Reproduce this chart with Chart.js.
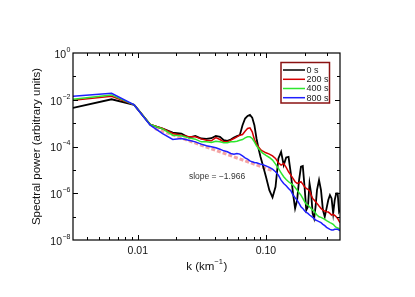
<!DOCTYPE html>
<html>
<head>
<meta charset="utf-8">
<script src="https://cdn.jsdelivr.net/npm/chart.js@4.4.0/dist/chart.umd.min.js"></script>
<style>
html, body { margin: 0; padding: 0; background: #fff; }
#wrap { width: 415px; height: 297px; }
</style>
</head>
<body>
<div id="wrap"><canvas id="myChart" width="415" height="297"></canvas></div>
<script>
// wavenumbers (km^-1)
const k = [0.003125, 0.00625, 0.009375, 0.0125, 0.015625, 0.01875, 0.021875, 0.025, 0.028125, 0.03125,
  0.034375, 0.0375, 0.040625, 0.04375, 0.046875, 0.05, 0.053125, 0.05625, 0.059375, 0.0625,
  0.065625, 0.06875, 0.071875, 0.075, 0.078125, 0.08125, 0.084375, 0.0875, 0.090625, 0.09375,
  0.1, 0.10625, 0.1125, 0.11875, 0.125, 0.13125, 0.1375, 0.14375, 0.15, 0.15625,
  0.1625, 0.16875, 0.175, 0.18125, 0.1875, 0.19375, 0.2, 0.20625, 0.2125, 0.21875,
  0.225, 0.23125, 0.2375, 0.24375, 0.25,
  0.259375, 0.26875, 0.278125, 0.2875, 0.296875, 0.30625, 0.315625, 0.325, 0.334375, 0.34375, 0.353125, 0.3625, 0.371875,
  0.378125];

const power0 = [4.48e-3, 1.05e-2, 6.01e-3, 8.71e-4, 5.87e-4, 3.96e-4, 3.59e-4, 2.42e-4, 2.86e-4, 2.20e-4,
  2.12e-4, 2.27e-4, 2.86e-4, 2.59e-4, 1.86e-4, 1.75e-4, 1.99e-4, 2.42e-4, 2.76e-4, 3.05e-4,
  8.15e-4, 1.57e-3, 2.04e-3, 2.25e-3, 1.73e-3, 8.15e-4, 2.20e-4, 8.22e-5, 3.62e-5, 1.88e-5,
  5.07e-6, 1.36e-6, 6.64e-7, 1.90e-6, 3.08e-5, 5.92e-5, 1.60e-5, 3.39e-5, 3.62e-5, 7.03e-6,
  9.84e-7, 2.25e-7, 5.11e-7, 3.65e-6, 1.36e-5, 1.45e-5, 1.90e-6, 1.91e-7, 2.65e-7, 2.63e-6,
  9.84e-7, 1.38e-7, 8.41e-8, 2.65e-7, 1.36e-6,
  3.65e-6, 1.36e-6, 1.91e-7, 9.91e-8, 2.25e-7, 5.11e-7, 8.36e-7, 6.01e-7, 1.38e-7, 5.11e-7, 9.84e-7, 9.84e-7, 1.62e-7,
  1.91e-7];

const power200 = [9.53e-3, 1.41e-2, 6.01e-3, 8.71e-4, 5.87e-4, 3.59e-4, 3.05e-4, 2.59e-4, 2.59e-4, 2.12e-4,
  1.86e-4, 1.75e-4, 2.42e-4, 1.99e-4, 1.58e-4, 1.58e-4, 1.86e-4, 2.20e-4, 2.59e-4, 3.05e-4,
  3.25e-4, 4.52e-4, 5.87e-4, 6.27e-4, 4.23e-4, 1.99e-4, 1.26e-4, 9.68e-5, 7.45e-5, 6.53e-5,
  5.37e-5, 4.71e-5, 3.99e-5, 3.08e-5, 2.00e-5, 1.60e-5, 1.88e-5, 1.27e-5, 8.28e-6, 5.97e-6,
  4.30e-6, 3.10e-6, 2.63e-6, 2.81e-6, 3.10e-6, 2.46e-6, 1.90e-6, 1.61e-6, 1.46e-6, 1.28e-6,
  8.36e-7, 6.01e-7, 5.11e-7, 4.34e-7, 3.68e-7,
  2.83e-7, 2.25e-7, 1.91e-7, 1.73e-7, 1.62e-7, 1.57e-7, 1.38e-7, 1.17e-7, 1.25e-7, 1.13e-7, 9.91e-8, 8.41e-8, 6.47e-8,
  5.50e-8];

const power400 = [1.05e-2, 1.61e-2, 6.01e-3, 8.71e-4, 5.68e-4, 3.05e-4, 2.86e-4, 2.34e-4, 2.06e-4, 1.58e-4,
  1.58e-4, 1.48e-4, 1.69e-4, 1.58e-4, 1.44e-4, 1.44e-4, 1.58e-4, 1.58e-4, 1.69e-4, 1.86e-4,
  1.99e-4, 2.34e-4, 2.59e-4, 2.59e-4, 2.20e-4, 1.58e-4, 1.07e-4, 8.22e-5, 6.53e-5, 5.37e-5,
  4.13e-5, 3.39e-5, 2.61e-5, 1.76e-5, 1.15e-5, 7.50e-6, 5.07e-6, 3.90e-6, 3.10e-6, 2.63e-6,
  2.23e-6, 1.77e-6, 1.36e-6, 1.05e-6, 8.36e-7, 6.01e-7, 4.34e-7, 3.44e-7, 3.13e-7, 2.65e-7,
  2.25e-7, 1.91e-7, 1.73e-7, 1.38e-7, 1.17e-7,
  9.91e-8, 9.29e-8, 8.41e-8, 7.64e-8, 6.70e-8, 6.07e-8, 5.50e-8, 5.15e-8, 4.67e-8, 3.96e-8, 3.48e-8, 3.25e-8, 3.05e-8,
  2.86e-8];

const power800 = [1.41e-2, 1.90e-2, 6.01e-3, 8.15e-4, 3.59e-4, 1.99e-4, 2.20e-4, 1.86e-4, 1.58e-4, 1.26e-4,
  1.07e-4, 9.68e-5, 8.77e-5, 7.69e-5, 6.53e-5, 5.92e-5, 5.02e-5, 4.71e-5, 5.02e-5, 4.71e-5,
  3.99e-5, 3.28e-5, 2.88e-5, 2.44e-5, 2.21e-5, 2.07e-5, 2.00e-5, 1.88e-5, 1.76e-5, 1.70e-5,
  1.49e-5, 1.27e-5, 1.08e-5, 8.28e-6, 5.97e-6, 3.65e-6, 2.63e-6, 2.09e-6, 1.61e-6, 1.28e-6,
  8.36e-7, 6.43e-7, 5.11e-7, 3.68e-7, 2.65e-7, 2.25e-7, 1.79e-7, 1.52e-7, 1.38e-7, 1.17e-7,
  1.06e-7, 9.29e-8, 8.41e-8, 7.14e-8, 6.70e-8,
  6.07e-8, 5.50e-8, 4.67e-8, 4.09e-8, 3.48e-8, 3.15e-8, 2.86e-8, 2.67e-8, 2.67e-8, 2.86e-8, 2.86e-8, 2.86e-8, 2.67e-8,
  2.51e-8];

// fitted power law (two end points)
const fitK = [0.0136, 0.114];
const fitP = [5.87e-4, 9.0e-6];
const slopeText = 'slope = \u22121.966';

const seriesLabels = ['0 s', '200 s', '400 s', '800 s'];
const seriesData = [power0, power200, power400, power800];
const seriesColors = ['#000000', '#d40000', '#2ee62e', '#1f1fff'];

const xTickValues = [0.01, 0.1];
const xTickLabels = ['0.01', '0.10'];
const xMinorTicks = [0.004, 0.005, 0.006, 0.007, 0.008, 0.009, 0.02, 0.03, 0.04, 0.05, 0.06, 0.07, 0.08, 0.09, 0.2, 0.3];
const yTickExps = [0, -2, -4, -6, -8];

const FONT = '"Liberation Sans", Arial, Helvetica, sans-serif';

function make_datasets(){
    let sets = seriesData.map((vals, i) => ({
        label: seriesLabels[i],
        data: k.map((kv, j) => ({x: kv, y: vals[j]})),
        borderColor: seriesColors[i],
        borderWidth: i == 0 ? 1.8 : 1.5,
        pointRadius: 0,
        fill: false,
        tension: 0,
        order: 4 - i
    }));
    sets.push({
        label: 'fit',
        data: fitK.map((kv, j) => ({x: kv, y: fitP[j]})),
        borderColor: 'rgba(240,140,140,0.8)',
        borderWidth: 3,
        borderDash: [4, 2],
        pointRadius: 0,
        fill: false,
        order: 10
    });
    return sets;
}

// frame, inward ticks, superscript labels, legend and annotation
const framePlugin = {
    id: 'frame',
    afterDraw(chart){
        const ctx = chart.ctx;
        const {left, right, top, bottom} = chart.chartArea;
        const xs = chart.scales.x, ys = chart.scales.y;
        ctx.save();
        ctx.strokeStyle = '#000';
        ctx.lineWidth = 1.2;
        ctx.strokeRect(left, top, right - left, bottom - top);

        ctx.lineWidth = 1;
        ctx.beginPath();
        for (let v of xMinorTicks){
            const px = Math.round(xs.getPixelForValue(v)) + 0.5;
            ctx.moveTo(px, bottom); ctx.lineTo(px, bottom - 3);
            ctx.moveTo(px, top); ctx.lineTo(px, top + 3);
        }
        for (let v of xTickValues){
            const px = Math.round(xs.getPixelForValue(v)) + 0.5;
            ctx.moveTo(px, bottom); ctx.lineTo(px, bottom - 5);
            ctx.moveTo(px, top); ctx.lineTo(px, top + 5);
        }
        for (let e = -7; e <= -1; e++){
            const py = Math.round(ys.getPixelForValue(Math.pow(10, e))) + 0.5;
            const len = e % 2 == 0 ? 5 : 3;
            ctx.moveTo(left, py); ctx.lineTo(left + len, py);
            ctx.moveTo(right, py); ctx.lineTo(right - len, py);
        }
        ctx.stroke();

        // y tick labels 10^n
        ctx.fillStyle = '#111';
        ctx.textBaseline = 'middle';
        ctx.textAlign = 'left';
        for (let e of yTickExps){
            const py = ys.getPixelForValue(Math.pow(10, e));
            const expTxt = e == 0 ? '0' : '\u2212' + (-e);
            ctx.font = '7px ' + FONT;
            const we = ctx.measureText(expTxt).width;
            ctx.font = '10.5px ' + FONT;
            const wb = ctx.measureText('10').width;
            const x0 = left - 3 - we - wb;
            ctx.fillText('10', x0, py + 2);
            ctx.font = '7px ' + FONT;
            ctx.fillText(expTxt, x0 + wb + 0.5, py - 3);
        }

        // x axis title with superscript
        ctx.font = '11.5px ' + FONT;
        const t1 = 'k (km', t3 = ')';
        const w1 = ctx.measureText(t1).width, w3 = ctx.measureText(t3).width;
        ctx.font = '7.5px ' + FONT;
        const t2 = '\u22121';
        const w2 = ctx.measureText(t2).width;
        const cx = (left + right) / 2;
        let tx = cx - (w1 + w2 + w3) / 2;
        ctx.font = '11.5px ' + FONT;
        ctx.fillText(t1, tx, 267);
        ctx.font = '7.5px ' + FONT;
        ctx.fillText(t2, tx + w1, 262);
        ctx.font = '11.5px ' + FONT;
        ctx.fillText(t3, tx + w1 + w2 + 0.5, 267);

        // slope annotation
        ctx.font = '8.5px ' + FONT;
        ctx.fillStyle = '#333';
        ctx.textAlign = 'center';
        ctx.fillText(slopeText, 217, 177);

        // legend
        ctx.strokeStyle = '#8b1212';
        ctx.lineWidth = 1.5;
        ctx.strokeRect(281, 62.5, 48.5, 40.5);
        ctx.textAlign = 'left';
        ctx.font = '9px ' + FONT;
        ctx.fillStyle = '#222';
        const rows = [70, 79.3, 88.5, 97.7];
        seriesLabels.forEach((lab, i) => {
            ctx.strokeStyle = seriesColors[i];
            ctx.lineWidth = 1.5;
            ctx.beginPath();
            ctx.moveTo(283, rows[i]);
            ctx.lineTo(305, rows[i]);
            ctx.stroke();
            ctx.fillText(lab, 306.5, rows[i] + 0.5);
        });
        ctx.restore();
    }
};

function main(){
    const ctx = document.getElementById('myChart').getContext('2d');
    new Chart(ctx, {
        type: 'line',
        data: {datasets: make_datasets()},
        options: {
            responsive: false,
            animation: false,
            devicePixelRatio: 1,
            layout: {padding: {left: 30, top: 53, right: 75, bottom: 24}},
            plugins: {legend: {display: false}, tooltip: {enabled: false}},
            scales: {
                x: {
                    type: 'logarithmic',
                    min: 0.003125,
                    max: 0.378,
                    grid: {display: false, drawTicks: false},
                    border: {display: false},
                    afterBuildTicks: s => { s.ticks = xTickValues.map(v => ({value: v})); },
                    afterFit: s => { s.height = 33; },
                    ticks: {
                        autoSkip: false,
                        maxRotation: 0,
                        padding: 5,
                        color: '#111',
                        font: {family: FONT, size: 10.5},
                        callback: v => xTickLabels[xTickValues.indexOf(v)]
                    }
                },
                y: {
                    type: 'logarithmic',
                    min: 1e-8,
                    max: 1,
                    grid: {display: false, drawTicks: false},
                    border: {display: false},
                    afterBuildTicks: s => { s.ticks = yTickExps.map(e => ({value: Math.pow(10, e)})); },
                    afterFit: s => { s.width = 43; },
                    ticks: {callback: () => ''},
                    title: {
                        display: true,
                        text: 'Spectral power (arbitrary units)',
                        color: '#111',
                        padding: 0,
                        font: {family: FONT, size: 11.5}
                    }
                }
            }
        },
        plugins: [framePlugin]
    });
}

main();
</script>
</body>
</html>
